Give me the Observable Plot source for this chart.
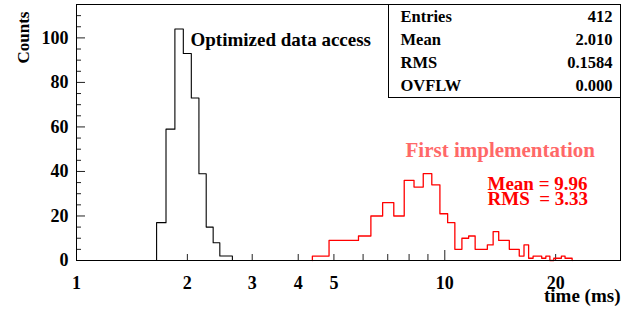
<!DOCTYPE html>
<html><head><meta charset="utf-8">
<script src="https://cdn.jsdelivr.net/npm/d3@7"></script>
<script src="https://cdn.jsdelivr.net/npm/@observablehq/plot@0.6"></script>
<style>html,body{margin:0;padding:0;background:#fff} svg{display:block}</style>
</head><body><div id="chart"></div>
<script>
// ---- data ----
const blackEdges  = [1.65,1.75,1.85,1.95,2.05,2.15,2.25,2.35,2.45,2.55,2.65];
const blackCounts = [17,59,104,93,73,39,15,8,2,2];
const redEdges  = [4.37,4.85,5.34,5.83,6.30,6.78,7.27,7.76,8.25,8.74,9.22,9.70,10.18,10.65,11.13,11.61,12.09,12.57,13.05,13.53,14.01,14.49,14.97,15.45,15.93,16.41,16.89,17.37,17.85,18.33,18.81,19.29,19.77,20.25,20.73,21.21,21.69,22.17];
const redCounts = [2,9,9,11,20,26,20,36,33,39,34,21,17,5,10,11,5,5,7,13,9,9,5,5,2,7,1,2,2,1,2,0,1,1,2,1,1];
const xLabelTicks = [1,2,3,4,5,10,20];
const xShortTicks = [2,3,4,5,6,7,8,9,20];
const xLongTicks  = [10];
const yLabelTicks = [0,20,40,60,80,100];
const yMinorTicks = [5,10,15,25,30,35,45,50,55,65,70,75,85,90,95,105,110];
const statNames  = ["Entries","Mean","RMS","OVFLW"];
const statValues = ["412","2.010","0.1584","0.000"];
const redTitle = "First implementation";
const redStats = ["Mean = 9.96", "RMS\u00a0\u00a0= 3.33"];
const blackTitle = "Optimized data access";

// ---- layout ----
const W = 631, H = 309, mL = 76, mR = 11, mT = 4, mB = 49;
const plotW = W - mL - mR, plotH = H - mT - mB;
const serif = "'Liberation Serif','DejaVu Serif',serif";
const txt = {fontFamily: serif, fontWeight: "bold"};

function steps(edges, counts) {
  const pts = [{x: edges[0], y: 0}];
  counts.forEach((c, i) => pts.push({x: edges[i], y: c}));
  pts.push({x: edges[edges.length - 1], y: 0});
  return pts;
}

const chart = Plot.plot({
  width: W, height: H,
  marginLeft: mL, marginRight: mR, marginTop: mT, marginBottom: mB,
  style: {fontFamily: serif, fontWeight: "bold", fontSize: "18px", background: "#fff", color: "#000", overflow: "visible"},
  x: {type: "log", domain: [1, 30]},
  y: {domain: [0, 115]},
  marks: [
    Plot.tickX(xShortTicks, {x: d => d, insetTop: plotH - 6, stroke: "#222"}),
    Plot.tickX(xLongTicks, {x: d => d, insetTop: plotH - 10, stroke: "#222"}),
    Plot.tickY(yLabelTicks, {y: d => d, insetRight: plotW - 9, stroke: "#222"}),
    Plot.tickY(yMinorTicks, {y: d => d, insetRight: plotW - 5, stroke: "#222"}),
    Plot.axisX(xLabelTicks, {tickSize: 0, tickPadding: 16, tickFormat: d => String(d), label: null, fontSize: 18}),
    Plot.axisY(yLabelTicks, {tickSize: 0, tickPadding: 8, tickFormat: d => String(d), label: null, fontSize: 18}),
    Plot.line(steps(blackEdges, blackCounts), {x: "x", y: "y", curve: "step-after", stroke: "#000", strokeWidth: 1.1}),
    Plot.line(steps(redEdges, redCounts), {x: "x", y: "y", curve: "step-after", stroke: "#ff0000", strokeWidth: 1.3}),
    Plot.frame({stroke: "#000", strokeWidth: 1}),
    Plot.frame({insetLeft: 312, insetBottom: 163, stroke: "#000", strokeWidth: 1}),
    Plot.text(["Counts"], {...txt, text: d => d, frameAnchor: "top-left", dx: -60, dy: 33, rotate: -90, textAnchor: "middle", fontSize: 17}),
    Plot.text(["time (ms)"], {...txt, text: d => d, frameAnchor: "bottom-right", dy: 41, textAnchor: "end", fontSize: 19}),
    Plot.text([blackTitle], {...txt, text: d => d, frameAnchor: "top-left", dx: 114, dy: 28, textAnchor: "start", fontSize: 19}),
    Plot.text([redTitle], {...txt, text: d => d, frameAnchor: "top-left", dx: 329, dy: 138, textAnchor: "start", fontSize: 21, fill: "#ff6868"}),
    Plot.text([redStats.join("\n")], {...txt, text: d => d, frameAnchor: "top-left", dx: 411, dy: 176, textAnchor: "start", lineHeight: 0.74, fontSize: 19, fill: "#ff0000"}),
    ...statNames.map((s, i) => Plot.text([s], {...txt, text: d => d, frameAnchor: "top-left", dx: 324, dy: 6 + 23 * i, textAnchor: "start", fontSize: 16.5})),
    ...statValues.map((s, i) => Plot.text([s], {...txt, text: d => d, frameAnchor: "top-right", dx: -8, dy: 6 + 23 * i, textAnchor: "end", fontSize: 16.5}))
  ]
});
document.getElementById("chart").appendChild(chart);
</script>
</body></html>
